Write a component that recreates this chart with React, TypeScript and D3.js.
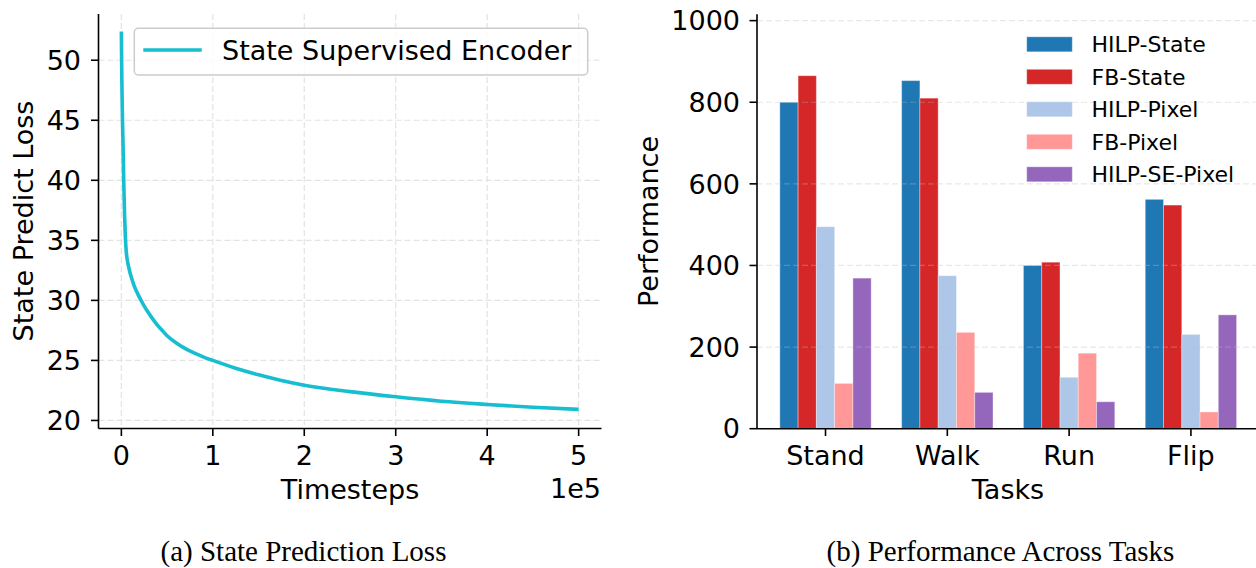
import React from "react";
import * as d3 from "d3";

// ---------- Data: (a) State Prediction Loss ----------
const lossSteps = [0, 0.002, 0.005, 0.009, 0.013, 0.0175, 0.021, 0.025, 0.03, 0.036, 0.042, 0.047, 0.053, 0.06, 0.075, 0.09, 0.11, 0.135, 0.164, 0.19, 0.219, 0.26, 0.3, 0.34, 0.383, 0.44, 0.5, 0.6, 0.7, 0.8, 0.9, 1.0, 1.25, 1.5, 1.75, 2.0, 2.5, 3.0, 3.5, 4.0, 4.5, 5.0];
const lossValues = [52.4, 50.6, 48.5, 46.5, 44.8, 43.3, 41.9, 40.3, 38.6, 36.9, 35.6, 34.8, 34.1, 33.6, 32.95, 32.45, 31.9, 31.32, 30.78, 30.38, 29.95, 29.4, 28.92, 28.48, 28.05, 27.55, 27.05, 26.45, 25.98, 25.6, 25.28, 25.0, 24.35, 23.8, 23.33, 22.94, 22.4, 21.97, 21.6, 21.33, 21.1, 20.92];
const lossLegend = "State Supervised Encoder";
const leftXTicks = [0, 1, 2, 3, 4, 5];
const leftYTicks = [20, 25, 30, 35, 40, 45, 50];

// ---------- Data: (b) Performance Across Tasks ----------
const tasks = ["Stand", "Walk", "Run", "Flip"];
const methods = ["HILP-State", "FB-State", "HILP-Pixel", "FB-Pixel", "HILP-SE-Pixel"];
const methodColors = ["#1f77b4", "#d62728", "#aec7e8", "#ff9896", "#9467bd"];
const hilpState = [800, 853, 400, 562];
const fbState = [865, 810, 408, 548];
const hilpPixel = [495, 375, 126, 231];
const fbPixel = [111, 236, 185, 41];
const hilpSePixel = [369, 89, 66, 279];
const seriesValues = [hilpState, fbState, hilpPixel, fbPixel, hilpSePixel];
const rightYTicks = [0, 200, 400, 600, 800, 1000];

const FONT = "DejaVu Sans, Verdana, sans-serif";
const SERIF = "Liberation Serif, Times New Roman, serif";

export default function App() {
  // Left chart scales
  const lx = d3.scaleLinear().domain([-0.25, 5.25]).range([98.5, 601.5]);
  const ly = d3.scaleLinear().domain([19.33, 53.85]).range([428.5, 14]);
  const linePts: [number, number][] = lossSteps.map((t, i) => [t, lossValues[i]]);
  const lineGen = d3
    .line<[number, number]>()
    .x((d) => lx(d[0]))
    .y((d) => ly(d[1]))
    .curve(d3.curveMonotoneX);

  // Right chart scales
  const rx = d3.scaleLinear().domain([-0.5625, 3.5625]).range([757, 757 + 4.125 * 121.8]);
  const ry = d3.scaleLinear().domain([0, 1015.5]).range([428.7, 14.3]);
  const barW = 0.15;

  const tickFont = 27;

  return (
    <svg
      width={1256}
      height={568}
      viewBox="0 0 1256 568"
      style={{ position: "absolute", left: 0, top: 0, background: "#fff" }}
      fontFamily={FONT}
    >
      <rect x={0} y={0} width={1256} height={568} fill="#fff" />

      {/* ================= LEFT CHART ================= */}
      <g>
        {leftXTicks.map((t) => (
          <line key={"gx" + t} x1={lx(t)} x2={lx(t)} y1={14} y2={428.5} stroke="#e3e3e3" strokeWidth={1.2} strokeDasharray="6,3" />
        ))}
        {leftYTicks.map((t) => (
          <line key={"gy" + t} x1={98.5} x2={601.5} y1={ly(t)} y2={ly(t)} stroke="#e3e3e3" strokeWidth={1.2} strokeDasharray="6,3" />
        ))}
        <path d={lineGen(linePts) || ""} fill="none" stroke="#17becf" strokeWidth={3.6} strokeLinejoin="round" />
        <line x1={98.5} x2={98.5} y1={14} y2={428.5} stroke="#000" strokeWidth={1.6} />
        <line x1={98.5} x2={601.5} y1={428.5} y2={428.5} stroke="#000" strokeWidth={1.6} />
        {leftYTicks.map((t) => (
          <g key={"ly" + t}>
            <line x1={91} x2={98.5} y1={ly(t)} y2={ly(t)} stroke="#000" strokeWidth={1.6} />
            <text x={81} y={ly(t)} dy="0.36em" textAnchor="end" fontSize={tickFont} fill="#000">
              {t}
            </text>
          </g>
        ))}
        {leftXTicks.map((t) => (
          <g key={"lx" + t}>
            <line x1={lx(t)} x2={lx(t)} y1={428.5} y2={436} stroke="#000" strokeWidth={1.6} />
            <text x={lx(t)} y={465} textAnchor="middle" fontSize={tickFont} fill="#000">
              {t}
            </text>
          </g>
        ))}
        <text x={601} y={498} textAnchor="end" fontSize={tickFont} fill="#000">1e5</text>
        <text x={350} y={499} textAnchor="middle" fontSize={tickFont} fill="#000">Timesteps</text>
        <text transform="translate(33,221) rotate(-90)" textAnchor="middle" fontSize={tickFont} fill="#000">
          State Predict Loss
        </text>
        <rect x={134.3} y={28.3} width={453.4} height={46.7} rx={4} fill="#fff" fillOpacity={0.8} stroke="#cccccc" strokeWidth={1.5} />
        <line x1={143.3} x2={201.7} y1={50} y2={50} stroke="#17becf" strokeWidth={3.6} />
        <text x={222} y={50} dy="0.36em" fontSize={tickFont} fill="#000">{lossLegend}</text>
      </g>

      {/* ================= RIGHT CHART ================= */}
      <g>
        {seriesValues.map((vals, si) =>
          vals.map((v, ti) => {
            const x0 = rx(ti + (si - 2) * barW - barW / 2);
            const x1 = rx(ti + (si - 2) * barW + barW / 2);
            return (
              <rect
                key={"b" + si + "-" + ti}
                x={x0}
                y={ry(v)}
                width={x1 - x0}
                height={ry(0) - ry(v)}
                fill={methodColors[si]}
                stroke="#ffffff"
                strokeOpacity={0.35}
                strokeWidth={1}
              />
            );
          })
        )}
        {rightYTicks.filter((t) => t > 0).map((t) => (
          <line key={"rg" + t} x1={757} x2={1256} y1={ry(t)} y2={ry(t)} stroke="#bdbdbd" strokeOpacity={0.35} strokeWidth={1.2} strokeDasharray="6,3" />
        ))}
        <line x1={757} x2={757} y1={14.3} y2={428.7} stroke="#000" strokeWidth={1.6} />
        <line x1={757} x2={1256} y1={428.7} y2={428.7} stroke="#000" strokeWidth={1.6} />
        {rightYTicks.map((t) => (
          <g key={"ry" + t}>
            <line x1={749.5} x2={757} y1={ry(t)} y2={ry(t)} stroke="#000" strokeWidth={1.6} />
            <text x={740} y={ry(t)} dy="0.36em" textAnchor="end" fontSize={tickFont} fill="#000">
              {t}
            </text>
          </g>
        ))}
        {tasks.map((c, i) => (
          <g key={"rx" + c}>
            <line x1={rx(i)} x2={rx(i)} y1={428.7} y2={436} stroke="#000" strokeWidth={1.6} />
            <text x={rx(i)} y={465} textAnchor="middle" fontSize={tickFont} fill="#000">
              {c}
            </text>
          </g>
        ))}
        <text x={1008} y={499} textAnchor="middle" fontSize={tickFont} fill="#000">Tasks</text>
        <text transform="translate(658,221.5) rotate(-90)" textAnchor="middle" fontSize={tickFont} fill="#000">
          Performance
        </text>
        {methods.map((m, i) => {
          const cy = 44.3 + i * 32.5;
          return (
            <g key={"lg" + m}>
              <rect x={1026.7} y={cy - 7.5} width={45.6} height={15} fill={methodColors[i]} stroke="#fff" strokeOpacity={0.35} strokeWidth={1} />
              <text x={1091.5} y={cy} dy="0.36em" fontSize={22} fill="#000">
                {m}
              </text>
            </g>
          );
        })}
      </g>

      {/* captions */}
      <text x={303.5} y={561} textAnchor="middle" fontFamily={SERIF} fontSize={29} fill="#000">
        (a) State Prediction Loss
      </text>
      <text x={1000.5} y={561} textAnchor="middle" fontFamily={SERIF} fontSize={29} fill="#000">
        (b) Performance Across Tasks
      </text>
    </svg>
  );
}
